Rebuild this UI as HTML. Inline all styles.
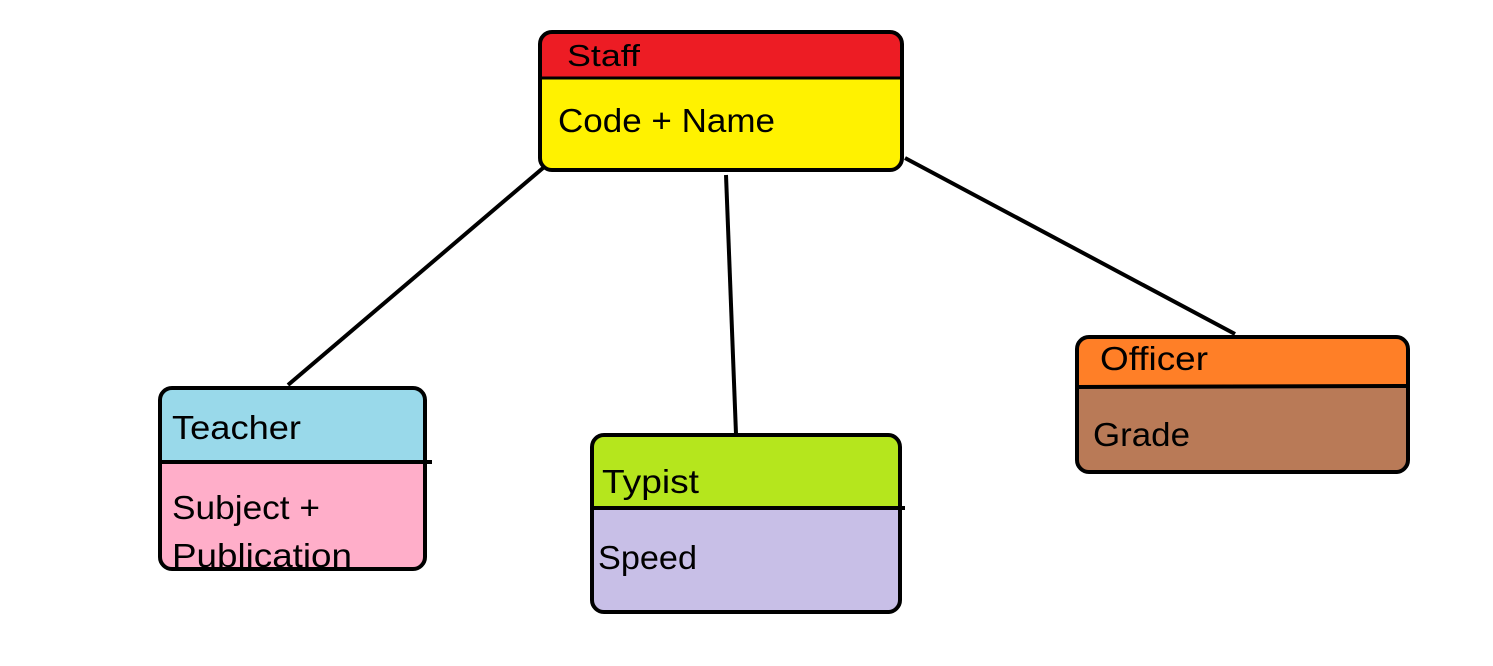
<!DOCTYPE html>
<html><head><meta charset="utf-8"><style>
html,body{margin:0;padding:0;background:#fff;width:1493px;height:666px;overflow:hidden}
text{font-family:"Liberation Sans",sans-serif;fill:#000}
</style></head><body>
<svg width="1493" height="666" viewBox="0 0 1493 666" xmlns="http://www.w3.org/2000/svg">
<g stroke="#000" stroke-width="4" fill="none">
<line x1="543" y1="168" x2="288" y2="385"/>
<line x1="726" y1="175" x2="736" y2="434"/>
<line x1="905" y1="158" x2="1235" y2="334"/>
</g>
<defs>
<clipPath id="c1"><rect x="540" y="32" width="362" height="138" rx="12"/></clipPath>
<clipPath id="c2"><rect x="160" y="388" width="265" height="181" rx="12"/></clipPath>
<clipPath id="c3"><rect x="592" y="435" width="308" height="177" rx="12"/></clipPath>
<clipPath id="c4"><rect x="1077" y="337" width="331" height="135" rx="12"/></clipPath>
</defs>
<g clip-path="url(#c1)"><rect x="538" y="30" width="370" height="50" fill="#ED1C24"/><rect x="538" y="78" width="370" height="100" fill="#FFF200"/></g>
<line x1="540" y1="78" x2="902" y2="78" stroke="#000" stroke-width="3"/>
<rect x="540" y="32" width="362" height="138" rx="12" fill="none" stroke="#000" stroke-width="4"/>
<text x="567" y="66" font-size="31" textLength="73" lengthAdjust="spacingAndGlyphs">Staff</text>
<text x="558" y="132" font-size="33" textLength="217" lengthAdjust="spacingAndGlyphs">Code + Name</text>
<g clip-path="url(#c2)"><rect x="158" y="386" width="270" height="77" fill="#99D9EA"/><rect x="158" y="462" width="270" height="112" fill="#FFAEC9"/></g>
<rect x="160" y="388" width="265" height="181" rx="12" fill="none" stroke="#000" stroke-width="4"/>
<line x1="158" y1="462" x2="432" y2="462" stroke="#000" stroke-width="4"/>
<text x="172" y="439" font-size="33" textLength="129" lengthAdjust="spacingAndGlyphs">Teacher</text>
<text x="172" y="519" font-size="33" textLength="148" lengthAdjust="spacingAndGlyphs">Subject +</text>
<text x="172" y="567" font-size="33" textLength="180" lengthAdjust="spacingAndGlyphs">Publication</text>
<g clip-path="url(#c3)"><rect x="590" y="433" width="312" height="76" fill="#B5E61D"/><rect x="590" y="508" width="312" height="108" fill="#C8BFE7"/></g>
<rect x="592" y="435" width="308" height="177" rx="12" fill="none" stroke="#000" stroke-width="4"/>
<line x1="590" y1="508" x2="905" y2="508" stroke="#000" stroke-width="4"/>
<text x="602" y="493" font-size="33" textLength="97" lengthAdjust="spacingAndGlyphs">Typist</text>
<text x="598" y="569" font-size="33" textLength="99" lengthAdjust="spacingAndGlyphs">Speed</text>
<g clip-path="url(#c4)"><rect x="1075" y="335" width="336" height="53" fill="#FF7F27"/><rect x="1075" y="387" width="336" height="90" fill="#B97A57"/></g>
<rect x="1077" y="337" width="331" height="135" rx="12" fill="none" stroke="#000" stroke-width="4"/>
<line x1="1077" y1="387" x2="1408" y2="386" stroke="#000" stroke-width="4"/>
<text x="1100" y="370" font-size="33" textLength="108" lengthAdjust="spacingAndGlyphs">Officer</text>
<text x="1093" y="446" font-size="33" textLength="97" lengthAdjust="spacingAndGlyphs">Grade</text>
</svg>
</body></html>
